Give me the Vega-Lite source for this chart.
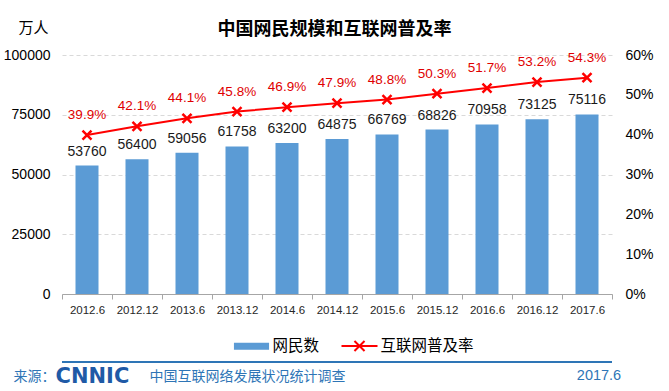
{
  "$schema": "https://vega.github.io/schema/vega-lite/v6.json",
  "width": 550,
  "height": 239,
  "autosize": {"type": "none"},
  "padding": {"left": 62, "top": 55, "right": 57, "bottom": 97},
  "background": "white",
  "title": {
    "text": "中国网民规模和互联网普及率",
    "anchor": "middle",
    "frame": "group",
    "font": "Noto Sans CJK SC",
    "fontSize": 18,
    "fontWeight": "bold",
    "color": "#000000",
    "baseline": "middle",
    "offset": -28,
    "dx": -2.5
  },
  "config": {"view": {"stroke": null}, "font": "Liberation Sans"},
  "data": {
    "values": [
      {"period": "2012.6", "users": 53760, "pct": 0.399},
      {"period": "2012.12", "users": 56400, "pct": 0.421},
      {"period": "2013.6", "users": 59056, "pct": 0.441},
      {"period": "2013.12", "users": 61758, "pct": 0.458},
      {"period": "2014.6", "users": 63200, "pct": 0.469},
      {"period": "2014.12", "users": 64875, "pct": 0.479},
      {"period": "2015.6", "users": 66769, "pct": 0.488},
      {"period": "2015.12", "users": 68826, "pct": 0.503},
      {"period": "2016.6", "users": 70958, "pct": 0.517},
      {"period": "2016.12", "users": 73125, "pct": 0.532},
      {"period": "2017.6", "users": 75116, "pct": 0.543}
    ]
  },
  "layer": [
    {
      "mark": {"type": "bar", "width": {"band": 0.46}},
      "encoding": {
        "x": {
          "field": "period", "type": "ordinal", "sort": null,
          "scale": {"paddingInner": 0, "paddingOuter": 0},
          "axis": {
            "orient": "bottom",
            "labelAngle": 0, "labelFont": "Liberation Sans", "labelFontSize": 11.5, "labelColor": "#262626", "labelPadding": 5,
            "domainColor": "#a6a6a6", "tickColor": "#a6a6a6", "tickSize": 5, "tickBand": "extent", "grid": false,
            "title": "来源：", "titleX": -49, "titleY": 82, "titleAlign": "left", "titleBaseline": "middle",
            "titleFont": "Noto Sans CJK SC", "titleFontSize": 14, "titleFontWeight": "normal", "titleColor": "#2e75b6"
          }
        },
        "y": {
          "field": "users", "type": "quantitative",
          "scale": {"domain": [0, 100000]},
          "axis": {
            "orient": "left",
            "values": [0, 25000, 50000, 75000, 100000], "format": "d",
            "domain": false, "ticks": false, "grid": true, "gridDash": [4, 3], "gridColor": "#d9d9d9",
            "labelFont": "Liberation Sans", "labelFontSize": 14, "labelPadding": 12, "labelColor": "#000000",
            "title": "万人", "titleAngle": 0, "titleX": -29, "titleY": -28, "titleAlign": "center", "titleBaseline": "middle",
            "titleFont": "Noto Sans CJK SC", "titleFontSize": 15, "titleFontWeight": "normal", "titleColor": "#000000"
          }
        },
        "color": {
          "datum": "网民数",
          "scale": {"domain": ["网民数", "互联网普及率"], "range": ["#5b9bd5", "#ff0000"]},
          "legend": {
            "orient": "none", "legendX": 170.5, "legendY": 271.5, "direction": "horizontal", "title": null, "padding": 0,
            "labelFont": "Noto Sans CJK SC", "labelFontSize": 15.5, "labelColor": "#000000", "labelOffset": 2,
            "columnPadding": 18, "symbolSize": 1296, "symbolStrokeWidth": 2,
            "encode": {
              "symbols": {
                "update": {
                  "shape": {"signal": "datum.value === '网民数' ? 'M-0.92,-0.14H0.92V0.14H-0.92Z' : 'M-1,0H1M-0.28,-0.28L0.28,0.28M-0.28,0.28L0.28,-0.28'"},
                  "fill": {"signal": "datum.value === '网民数' ? '#5b9bd5' : 'transparent'"},
                  "stroke": {"signal": "datum.value === '网民数' ? 'transparent' : '#ff0000'"},
                  "strokeWidth": {"value": 2}
                }
              }
            }
          }
        }
      }
    },
    {
      "encoding": {
        "x": {
          "field": "period", "type": "ordinal", "sort": null,
          "axis": {
            "orient": "bottom", "offset": 68,
            "labels": false, "ticks": false, "grid": false, "domain": false,
            "title": "CNNIC", "titleX": -7, "titleY": 14, "titleAlign": "left", "titleBaseline": "middle",
            "titleFont": "DejaVu Sans", "titleFontSize": 21, "titleFontWeight": "bold", "titleColor": "#1f5aa6"
          }
        },
        "y": {
          "field": "pct", "type": "quantitative",
          "scale": {"domain": [0, 0.6]},
          "axis": {
            "orient": "right",
            "values": [0, 0.1, 0.2, 0.3, 0.4, 0.5, 0.6], "format": ".0%",
            "domain": false, "ticks": false, "grid": false,
            "labelFont": "Liberation Sans", "labelFontSize": 14, "labelPadding": 13, "labelColor": "#000000",
            "title": "2017.6", "titleAngle": 0, "titleX": -13.5, "titleY": 320.5, "titleAlign": "center", "titleBaseline": "middle",
            "titleFont": "Liberation Sans", "titleFontSize": 14.5, "titleFontWeight": "normal", "titleColor": "#2e75b6"
          }
        }
      },
      "layer": [
        {
          "mark": {"type": "line", "strokeWidth": 2},
          "encoding": {"color": {"datum": "互联网普及率"}}
        },
        {
          "mark": {"type": "point", "shape": "M-1,-1L1,1M-1,1L1,-1", "size": 81, "filled": false, "color": "#ff0000", "strokeWidth": 2.5, "opacity": 1}
        },
        {
          "mark": {"type": "text", "color": "#e00000", "font": "Liberation Sans", "fontSize": 13.5, "baseline": "alphabetic", "dy": -16},
          "encoding": {"text": {"field": "pct", "type": "quantitative", "format": ".1%"}}
        }
      ]
    },
    {
      "encoding": {
        "x": {
          "field": "period", "type": "ordinal", "sort": null,
          "axis": {
            "orient": "bottom",
            "labels": false, "ticks": false, "grid": false, "domain": false,
            "title": "中国互联网络发展状况统计调查", "titleX": 87, "titleY": 82, "titleAlign": "left", "titleBaseline": "middle",
            "titleFont": "Noto Sans CJK SC", "titleFontSize": 14, "titleFontWeight": "normal", "titleColor": "#2e75b6"
          }
        },
        "y": {"field": "users", "type": "quantitative", "scale": {"domain": [0, 100000]}, "axis": null}
      },
      "layer": [
        {
          "mark": {"type": "text", "color": "#1a1a1a", "font": "Liberation Sans", "fontSize": 14, "baseline": "alphabetic", "dy": -10},
          "encoding": {"text": {"field": "users", "type": "quantitative", "format": "d"}}
        },
        {
          "data": {"values": [{"footer": -28450}]},
          "mark": {"type": "rule", "color": "#2e75b6", "strokeWidth": 2, "clip": false},
          "encoding": {"x": null, "y": {"field": "footer", "type": "quantitative"}}
        }
      ]
    }
  ],
  "resolve": {"scale": {"y": "independent"}, "axis": {"x": "independent", "y": "independent"}}
}
